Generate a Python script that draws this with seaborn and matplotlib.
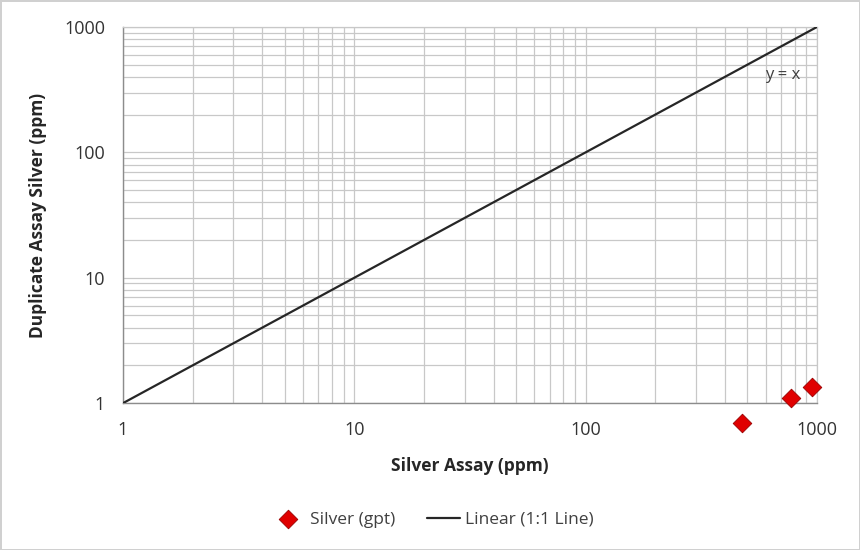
import numpy as np
import pandas as pd
import seaborn as sns
import matplotlib.pyplot as plt
from matplotlib.ticker import LogLocator, FixedLocator, NullFormatter

# data
silver_assay = [475, 773, 952]
duplicate_assay = [0.69, 1.1, 1.34]
line_x = [1, 1000]
line_y = [1, 1000]
x_ticks = [1, 10, 100, 1000]
y_ticks = [1, 10, 100, 1000]

points = pd.DataFrame({"Silver Assay (ppm)": silver_assay,
                       "Duplicate Assay Silver (ppm)": duplicate_assay})
one_to_one = pd.DataFrame({"x": line_x, "y": line_y})

sns.set_style("white")
plt.rcParams["font.family"] = ["Open Sans", "DejaVu Sans"]

fig = plt.figure(figsize=(8.6, 5.5), dpi=100)
fig.patch.set_edgecolor("#d0d0d0")
fig.patch.set_linewidth(2)
ax = fig.add_axes([0.143, 0.267, 0.807, 0.684])

ax.set_xscale("log")
ax.set_yscale("log")

sns.lineplot(data=one_to_one, x="x", y="y", ax=ax, color="#262626",
             linewidth=1.6, label="Linear (1:1 Line)", zorder=3)
sns.scatterplot(data=points, x="Silver Assay (ppm)", y="Duplicate Assay Silver (ppm)",
                ax=ax, marker="D", s=90, color="#e00000", edgecolor="#9a0000",
                linewidth=0.6, label="Silver (gpt)", clip_on=False, zorder=4)

ax.set_xlim(1, 1000)
ax.set_ylim(1, 1000)
ax.xaxis.set_major_locator(FixedLocator(x_ticks))
ax.yaxis.set_major_locator(FixedLocator(y_ticks))
ax.set_xticklabels([str(t) for t in x_ticks])
ax.set_yticklabels([str(t) for t in y_ticks])
ax.xaxis.set_minor_locator(LogLocator(base=10, subs=np.arange(2, 10)))
ax.yaxis.set_minor_locator(LogLocator(base=10, subs=np.arange(2, 10)))
ax.xaxis.set_minor_formatter(NullFormatter())
ax.yaxis.set_minor_formatter(NullFormatter())

ax.grid(which="both", color="#c8c8c8", linewidth=0.9)
ax.set_axisbelow(True)
ax.tick_params(which="major", length=5, width=1, color="#8c8c8c",
               labelsize=13, labelcolor="#333333", direction="out", pad=8)
ax.tick_params(which="minor", length=0)
for side in ["left", "bottom"]:
    ax.spines[side].set_color("#8c8c8c")
    ax.spines[side].set_linewidth(1)
for side in ["top", "right"]:
    ax.spines[side].set_color("#c8c8c8")
    ax.spines[side].set_linewidth(0.9)

ax.set_xlabel("Silver Assay (ppm)", fontsize=12.5, fontweight="bold",
              color="#262626", labelpad=13)
ax.set_ylabel("Duplicate Assay Silver (ppm)", fontsize=12.5, fontweight="bold",
              color="#262626", labelpad=12)

ax.text(713, 415, "y = x", fontsize=12, color="#404040", ha="center", va="center")

handles, labels = ax.get_legend_handles_labels()
ax.legend_.remove()
order = [labels.index("Silver (gpt)"), labels.index("Linear (1:1 Line)")]
fig.legend([handles[i] for i in order], [labels[i] for i in order],
           loc="center", bbox_to_anchor=(0.503, 0.055), ncol=2, frameon=False,
           fontsize=12.5, labelcolor="#404040", columnspacing=1.8,
           handlelength=1.9, handletextpad=0.3)

fig.savefig("out.png", dpi=100, edgecolor=fig.get_edgecolor())
